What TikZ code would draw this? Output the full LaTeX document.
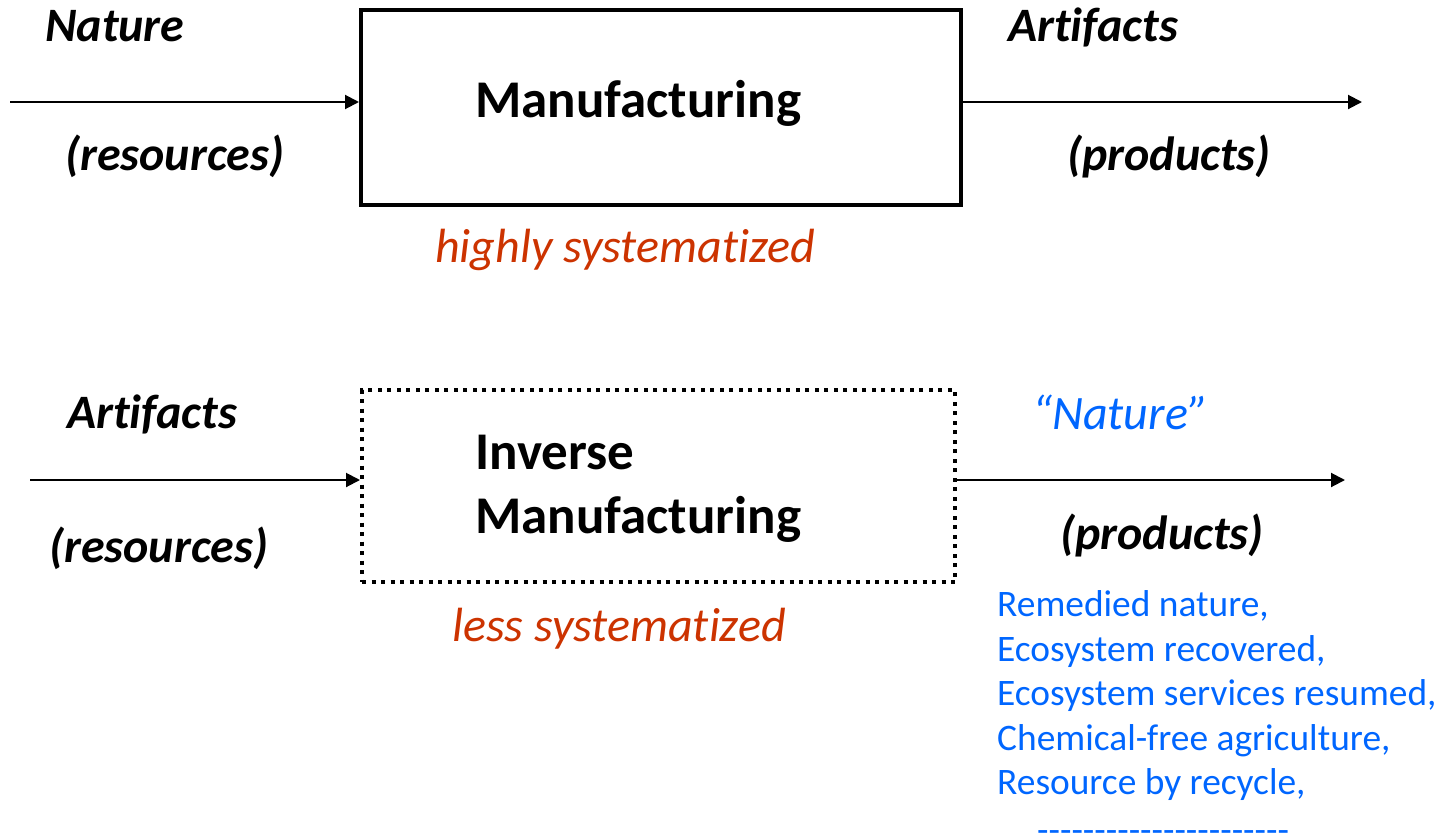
\documentclass[tikz,border=0pt]{standalone}
\usepackage{fontspec}
\setmainfont{Carlito}[Ligatures={NoCommon}]
\usetikzlibrary{arrows.meta}
\definecolor{sysred}{RGB}{204,51,0}
\definecolor{natblue}{RGB}{0,102,255}
\begin{document}
\begin{tikzpicture}[x=1pt,y=-1pt,
  boxsolid/.style={draw, line width=4pt, minimum width=600pt, minimum height=195pt, inner sep=0pt},
  boxdot/.style={draw, line width=4pt, dash pattern=on 4pt off 5.5pt, minimum width=593pt, minimum height=192pt, inner sep=0pt},
  arr/.style={line width=2pt, -{Triangle[length=14pt,width=14pt]}},
  lab/.style={anchor=base west, inner sep=0pt, font=\fontsize{48}{56}\selectfont\bfseries\itshape},
  title/.style={anchor=base west, inner sep=0pt, font=\fontsize{53}{64}\selectfont\bfseries},
  sys/.style={anchor=base west, inner sep=0pt, text=sysred, font=\fontsize{48}{56}\selectfont\itshape},
  blist/.style={anchor=base west, inner sep=0pt, text=natblue, font=\fontsize{37.4}{44.5}\selectfont}]
\useasboundingbox (0,0) rectangle (1443,833);
% top row
\node[boxsolid] (mfg) at (661,107.5) {};
\node[title] (mfgt) at (475,117) {Manufacturing};
\coordinate (in1) at (10,102);
\coordinate (out1) at (1362,102);
\draw[arr] (in1) -- (in1 -| mfg.west);
\draw[arr] (out1 -| mfg.east) -- (out1);
\node[lab] (nat1) at (45,41) {Nature};
\node[lab] (res1) at (65,170) {(resources)};
\node[lab] (art1) at (1008,41) {Artifacts};
\node[lab] (prod1) at (1067,170) {(products)};
\node[sys] (hs) at (435,262) {highly systematized};
% bottom row
\node[boxdot] (imfg) at (658.5,486) {};
\node[title] (inv) at (475,469) {Inverse};
\node[title] (imfgt) at (475,533) {Manufacturing};
\coordinate (in2) at (30,480);
\coordinate (out2) at (1345,480);
\draw[arr] (in2) -- (in2 -| imfg.west);
\draw[arr] (out2 -| imfg.east) -- (out2);
\node[lab] (art2) at (67,428) {Artifacts};
\node[lab] (res2) at (49,562) {(resources)};
\node[sys, text=natblue] (nat2) at (1032,429) {“Nature”};
\node[lab] (prod2) at (1060,549) {(products)};
\node[sys] (ls) at (452,641) {less systematized};
\node[blist] (b1) at (997,616) {Remedied nature,};
\node[blist] (b2) at (997,661) {Ecosystem recovered,};
\node[blist] (b3) at (997,705) {Ecosystem services resumed,};
\node[blist] (b4) at (997,750) {Chemical-free agriculture,};
\node[blist] (b5) at (997,794) {Resource by recycle,};
\node[blist] (b6) at (1037,842) {-{}-{}-{}-{}-{}-{}-{}-{}-{}-{}-{}-{}-{}-{}-{}-{}-{}-{}-{}-{}-{}-};
\end{tikzpicture}
\end{document}
